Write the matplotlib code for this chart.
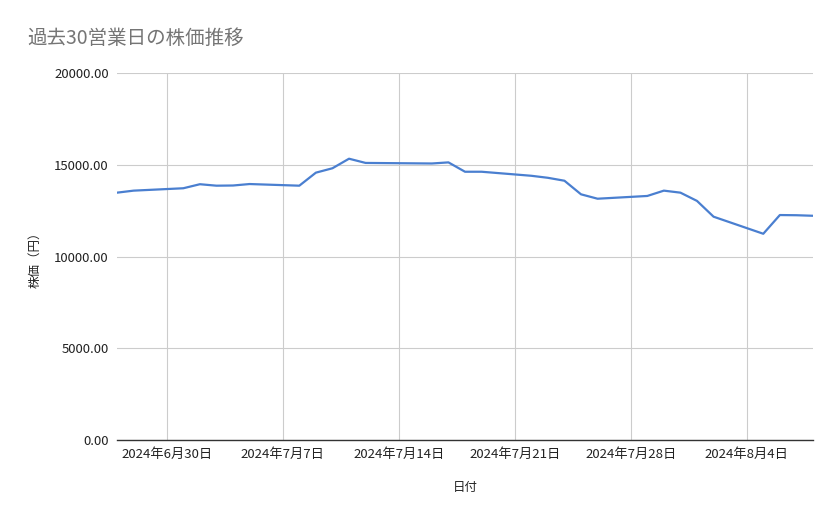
import datetime as dt
import matplotlib
matplotlib.use('Agg')
import matplotlib.pyplot as plt
import matplotlib.dates as mdates
from matplotlib.ticker import FuncFormatter, MultipleLocator

plt.rcParams['font.family'] = ['Noto Sans CJK JP', 'DejaVu Sans']

# 日付（営業日）と株価
dates = [
    '2024-06-27', '2024-06-28',
    '2024-07-01', '2024-07-02', '2024-07-03', '2024-07-04', '2024-07-05',
    '2024-07-08', '2024-07-09', '2024-07-10', '2024-07-11', '2024-07-12',
    '2024-07-16', '2024-07-17', '2024-07-18', '2024-07-19',
    '2024-07-22', '2024-07-23', '2024-07-24', '2024-07-25', '2024-07-26',
    '2024-07-29', '2024-07-30', '2024-07-31', '2024-08-01', '2024-08-02',
    '2024-08-05', '2024-08-06', '2024-08-07', '2024-08-08',
]
prices = [
    13480, 13590,
    13720, 13940, 13860, 13870, 13950,
    13860, 14570, 14810, 15330, 15100,
    15070, 15130, 14620, 14620,
    14400, 14290, 14130, 13390, 13150,
    13300, 13590, 13480, 13030, 12170,
    11240, 12260, 12250, 12220,
]
x = [dt.datetime.strptime(d, '%Y-%m-%d') for d in dates]

fig = plt.figure(figsize=(8.39, 5.19), dpi=100)
ax = fig.add_axes([0.1395, 0.1522, 0.8295, 0.7071])

ax.plot(x, prices, color='#4a7fd0', linewidth=1.6)

ax.set_ylim(0, 20000)
ax.yaxis.set_major_locator(MultipleLocator(5000))
ax.yaxis.set_major_formatter(FuncFormatter(lambda v, p: f'{v:.2f}'))
ax.set_xlim(dt.datetime(2024, 6, 27), dt.datetime(2024, 8, 8))
ax.xaxis.set_major_locator(mdates.WeekdayLocator(byweekday=mdates.SU))
ax.xaxis.set_major_formatter(FuncFormatter(
    lambda v, p: (lambda d: f'{d.year}年{d.month}月{d.day}日')(mdates.num2date(v))))

ax.grid(True, color='#cccccc', linewidth=0.8)
ax.set_axisbelow(True)
for s in ['top', 'right', 'left']:
    ax.spines[s].set_visible(False)
ax.spines['bottom'].set_color('#333333')
ax.spines['bottom'].set_linewidth(1.0)
ax.tick_params(axis='both', length=0, labelsize=9.5, colors='#222222')
ax.tick_params(axis='y', pad=6)
ax.tick_params(axis='x', pad=6)

ax.set_xlabel('日付', fontsize=9, color='#222222', labelpad=14)
ax.set_ylabel('株価（円）', fontsize=9, color='#222222', labelpad=9)

fig.text(0.032, 0.925, '過去30営業日の株価推移', fontsize=14, color='#757575',
         ha='left', va='center')

fig.savefig('out.png', dpi=100, facecolor='white')
